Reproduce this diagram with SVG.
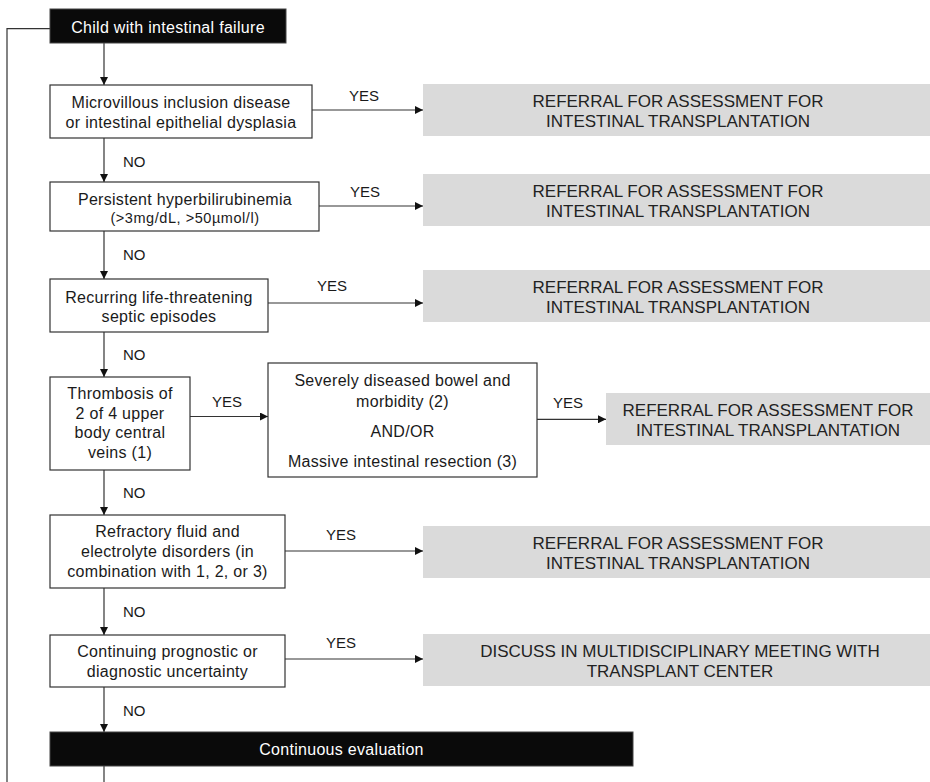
<svg xmlns="http://www.w3.org/2000/svg" width="930" height="782" viewBox="0 0 930 782">
<style>
.box{fill:#ffffff;stroke:#333333;stroke-width:1.2}
.blk{fill:#0a0a0a;stroke:#444444;stroke-width:1}
.gry{fill:#dadada}
.t{font-family:"Liberation Sans",Arial,sans-serif;font-size:16px;letter-spacing:0.3px;fill:#1a1a1a;text-anchor:middle}
.ts{font-family:"Liberation Sans",Arial,sans-serif;font-size:14.5px;letter-spacing:0.55px;fill:#1a1a1a;text-anchor:middle}
.tw{font-family:"Liberation Sans",Arial,sans-serif;font-size:16px;letter-spacing:0.3px;fill:#ffffff;text-anchor:middle}
.tg{font-family:"Liberation Sans",Arial,sans-serif;font-size:17px;fill:#222222;text-anchor:middle}
.lbl{font-family:"Liberation Sans",Arial,sans-serif;font-size:15px;fill:#1a1a1a}
.ln{fill:none;stroke:#333333;stroke-width:1.2}
.arr{fill:none;stroke:#333333;stroke-width:1.2;marker-end:url(#ah)}
</style>
<defs>
<marker id="ah" viewBox="0 0 10 10" markerUnits="userSpaceOnUse" markerWidth="8" markerHeight="8" refX="10" refY="5" orient="auto">
<path d="M0,0 L10,5 L0,10 z" fill="#111111"/>
</marker>
</defs>
<rect width="930" height="782" fill="#ffffff"/>

<g id="connectors">
<polyline class="ln" points="50,28.7 7,28.7 7,782"/>
<line class="ln" x1="104" y1="766" x2="104" y2="782"/>
<line class="arr" x1="104" y1="43" x2="104" y2="85"/>
<line class="arr" x1="104" y1="138" x2="104" y2="182"/>
<line class="arr" x1="104" y1="231" x2="104" y2="279"/>
<line class="arr" x1="104" y1="332" x2="104" y2="377"/>
<line class="arr" x1="104" y1="470" x2="104" y2="515"/>
<line class="arr" x1="104" y1="588" x2="104" y2="635"/>
<line class="arr" x1="104" y1="687" x2="104" y2="732"/>
<line class="arr" x1="312" y1="110" x2="423" y2="110"/>
<line class="arr" x1="319" y1="206" x2="423" y2="206"/>
<line class="arr" x1="268" y1="303" x2="423" y2="303"/>
<line class="arr" x1="190" y1="416.5" x2="268" y2="416.5"/>
<line class="arr" x1="537" y1="419.3" x2="606" y2="419.3"/>
<line class="arr" x1="285" y1="551" x2="423" y2="551"/>
<line class="arr" x1="285" y1="659" x2="423" y2="659"/>
<text class="lbl" x="349" y="100.7">YES</text>
<text class="lbl" x="350" y="196.7">YES</text>
<text class="lbl" x="317" y="291">YES</text>
<text class="lbl" x="212" y="406.5">YES</text>
<text class="lbl" x="553" y="408.3">YES</text>
<text class="lbl" x="326" y="540">YES</text>
<text class="lbl" x="326" y="648.3">YES</text>
<text class="lbl" x="123" y="166.7">NO</text>
<text class="lbl" x="123" y="259.7">NO</text>
<text class="lbl" x="123" y="360">NO</text>
<text class="lbl" x="123" y="498.3">NO</text>
<text class="lbl" x="123" y="616.7">NO</text>
<text class="lbl" x="123" y="716">NO</text>
</g>

<g id="start">
<rect class="blk" x="50" y="9" width="236" height="34"/>
<text class="tw" x="168" y="33.3">Child with intestinal failure</text>
</g>

<g id="q1">
<rect class="box" x="50" y="85" width="262" height="53"/>
<text class="t" x="181" y="108.3">Microvillous inclusion disease</text>
<text class="t" x="181" y="128.3">or intestinal epithelial dysplasia</text>
</g>

<g id="q2">
<rect class="box" x="50" y="182" width="269" height="49"/>
<text class="t" x="185" y="205">Persistent hyperbilirubinemia</text>
<text class="ts" x="185" y="223.3">(&gt;3mg/dL, &gt;50µmol/l)</text>
</g>

<g id="q3">
<rect class="box" x="50" y="279" width="218" height="53"/>
<text class="t" x="159" y="303.3">Recurring life-threatening</text>
<text class="t" x="159" y="322.3">septic episodes</text>
</g>

<g id="q4">
<rect class="box" x="50" y="377" width="140" height="93"/>
<text class="t" x="120" y="399">Thrombosis of</text>
<text class="t" x="120" y="418.5">2 of 4 upper</text>
<text class="t" x="120" y="438.3">body central</text>
<text class="t" x="120" y="458.3">veins (1)</text>
</g>

<g id="q4b">
<rect class="box" x="268" y="363" width="269" height="114"/>
<text class="t" x="402.5" y="386">Severely diseased bowel and</text>
<text class="t" x="402.5" y="406.5">morbidity (2)</text>
<text class="t" x="402.5" y="437.3">AND/OR</text>
<text class="t" x="402.5" y="467.3">Massive intestinal resection (3)</text>
</g>

<g id="q5">
<rect class="box" x="50" y="515" width="235" height="73"/>
<text class="t" x="167.5" y="537.3">Refractory fluid and</text>
<text class="t" x="167.5" y="557.3">electrolyte disorders (in</text>
<text class="t" x="167.5" y="577.3">combination with 1, 2, or 3)</text>
</g>

<g id="q6">
<rect class="box" x="50" y="635" width="235" height="52"/>
<text class="t" x="167.5" y="657.3">Continuing prognostic or</text>
<text class="t" x="167.5" y="676.7">diagnostic uncertainty</text>
</g>

<g id="end">
<rect class="blk" x="50" y="732" width="583" height="34"/>
<text class="tw" x="341.5" y="755">Continuous evaluation</text>
</g>

<g id="r1">
<rect class="gry" x="423" y="84" width="507" height="52"/>
<text class="tg" x="678" y="106.7">REFERRAL FOR ASSESSMENT FOR</text>
<text class="tg" x="678" y="126.7">INTESTINAL TRANSPLANTATION</text>
</g>

<g id="r2">
<rect class="gry" x="423" y="174" width="507" height="52"/>
<text class="tg" x="678" y="196.7">REFERRAL FOR ASSESSMENT FOR</text>
<text class="tg" x="678" y="216.7">INTESTINAL TRANSPLANTATION</text>
</g>

<g id="r3">
<rect class="gry" x="423" y="270" width="507" height="52"/>
<text class="tg" x="678" y="292.7">REFERRAL FOR ASSESSMENT FOR</text>
<text class="tg" x="678" y="312.7">INTESTINAL TRANSPLANTATION</text>
</g>

<g id="r4">
<rect class="gry" x="606" y="393" width="324" height="52"/>
<text class="tg" x="768" y="415.7">REFERRAL FOR ASSESSMENT FOR</text>
<text class="tg" x="768" y="435.7">INTESTINAL TRANSPLANTATION</text>
</g>

<g id="r5">
<rect class="gry" x="423" y="526" width="507" height="52"/>
<text class="tg" x="678" y="548.7">REFERRAL FOR ASSESSMENT FOR</text>
<text class="tg" x="678" y="568.7">INTESTINAL TRANSPLANTATION</text>
</g>

<g id="r6">
<rect class="gry" x="423" y="634" width="507" height="52"/>
<text class="tg" x="680" y="656.7">DISCUSS IN MULTIDISCIPLINARY MEETING WITH</text>
<text class="tg" x="680" y="676.7">TRANSPLANT CENTER</text>
</g>
</svg>
